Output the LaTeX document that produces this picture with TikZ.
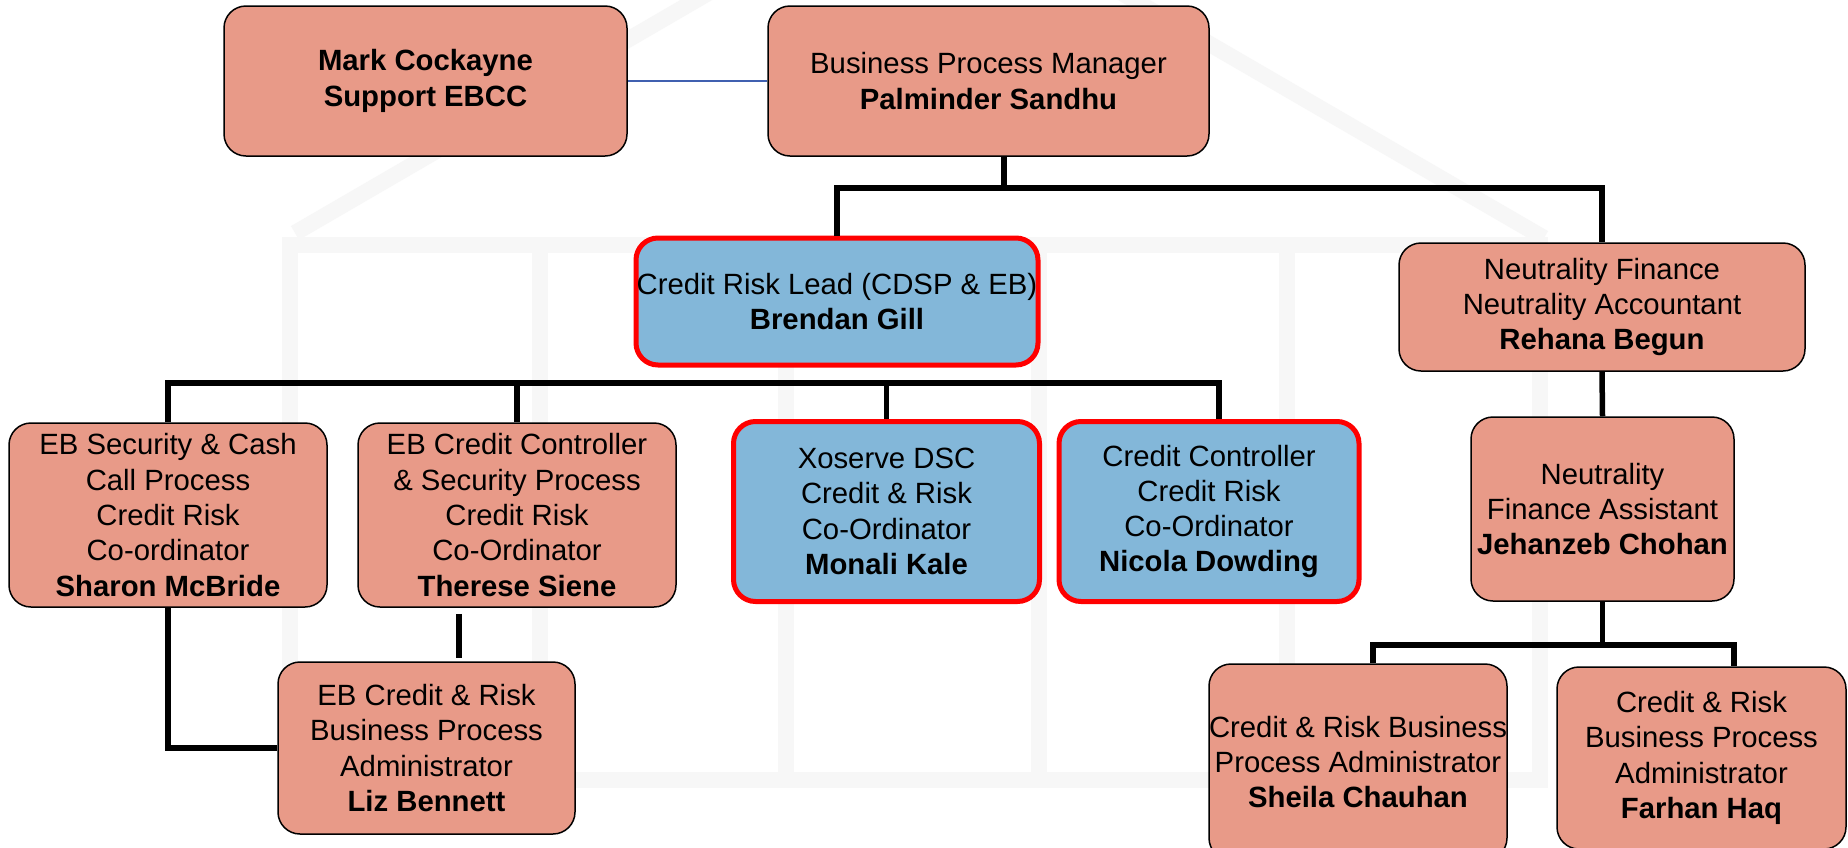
\documentclass[tikz,border=0pt]{standalone}
\usepackage{fontspec}
\setmainfont{Liberation Sans}
\usepackage{tikz}
\definecolor{salmon}{RGB}{232, 154, 136}
\definecolor{sky}{RGB}{131, 183, 217}
\definecolor{tieblue}{RGB}{64, 96, 176}
\definecolor{ghost}{RGB}{247, 247, 247}

\begin{document}
\begin{tikzpicture}[x=1pt, y=1pt,
    box/.style={draw=black, line width=1.5pt, fill=salmon, rounded corners=22pt,
                align=center, inner sep=0pt,
                font=\fontsize{29.3pt}{35.3pt}\selectfont},
    leadbox/.style={box, draw=red, fill=sky, line width=5pt},
    wire/.style={black, line width=5.5pt},
    tie/.style={tieblue, line width=2pt}]
  \useasboundingbox (0, 0) rectangle (1848, -847);
  \fill[white] (0, 0) rectangle (1848, -847);

  % faint house in the back
  \begin{scope}[ghost, line width=16pt]
    \draw (295, -233) -- (915, 127) -- (1544, -238);
    \draw (290, -245) rectangle (1540, -780);
    \foreach \x in {540, 786, 1039, 1287}
      \draw (\x, -245) -- (\x, -780);
  \end{scope}

  % boxes
  \node[box, minimum width=403pt, minimum height=150pt] (mark) at (425.5, -81)
    {\textbf{Mark Cockayne}\\\textbf{Support EBCC}};
  \node[box, minimum width=441pt, minimum height=150pt] (pm) at (988.5, -81)
    {Business Process Manager\\\textbf{Palminder Sandhu}};

  \node[leadbox, minimum width=402pt, minimum height=127pt] (crl) at (837, -301.5)
    {Credit Risk Lead (CDSP \& EB)\\\textbf{Brendan Gill}};
  \node[box, minimum width=406pt, minimum height=128pt] (nf) at (1602, -307)
    {Neutrality Finance\\Neutrality Accountant\\\textbf{Rehana Begun}};

  \node[box, minimum width=318pt, minimum height=184pt] (sharon) at (168, -515)
    {EB Security \& Cash\\Call Process\\Credit Risk\\Co-ordinator\\\textbf{Sharon McBride}};
  \node[box, minimum width=318pt, minimum height=184pt] (therese) at (517, -515)
    {EB Credit Controller\\\& Security Process\\Credit Risk\\Co-Ordinator\\\textbf{Therese Siene}};
  \node[leadbox, minimum width=306pt, minimum height=180pt] (monali) at (886.5, -511.5)
    {Xoserve DSC\\Credit \& Risk\\Co-Ordinator\\\textbf{Monali Kale}};
  \node[leadbox, minimum width=300pt, minimum height=180pt] (nicola) at (1209, -511.5)
    {Credit Controller\\Credit Risk\\Co-Ordinator\\\textbf{Nicola Dowding}};
  \node[box, minimum width=263pt, minimum height=184pt] (jehanzeb) at (1602.5, -509)
    {Neutrality\\Finance Assistant\\\textbf{Jehanzeb Chohan}};

  \node[box, minimum width=297pt, minimum height=172pt] (liz) at (426.5, -748)
    {EB Credit \& Risk\\Business Process\\Administrator\\\textbf{Liz Bennett}};
  \node[box, minimum width=296pt, minimum height=196pt] (sheila) at (1358, -762)
    {Credit \& Risk Business\\Process Administrator\\\textbf{Sheila Chauhan}};
  \node[box, minimum width=289pt, minimum height=182pt] (farhan) at (1701.5, -758)
    {Credit \& Risk\\Business Process\\Administrator\\\textbf{Farhan Haq}};

  % lines
  \coordinate (bar1) at (0, -188);
  \coordinate (bar2) at (0, -383);
  \coordinate (bar3) at (0, -645);

  \draw[tie] (mark.east) -- (pm.west);

  \draw[wire] ([xshift=15.5pt]pm.south) -- ([xshift=15.5pt]pm.south |- bar1);
  \draw[wire] (crl.north) |- (nf.north |- bar1) -- (nf.north);

  \draw[wire] (sharon.north) |- ([xshift=10pt]nicola.north |- bar2) -- ([xshift=10pt]nicola.north);
  \foreach \k in {therese, monali}
    \draw[wire] (\k.north) -- (\k.north |- bar2);

  \draw[wire] (sharon.south) |- (liz.west);
  \draw[wire] ([xshift=-58pt, yshift=-6pt]therese.south) -- ([xshift=32.5pt, yshift=3pt]liz.north);

  \draw[wire] (nf.south) -- (jehanzeb.north);
  \draw[wire] (jehanzeb.south) -- (jehanzeb.south |- bar3);
  \draw[wire] ([xshift=15pt]sheila.north) |- ([xshift=32.5pt]farhan.north |- bar3)
    -- ([xshift=32.5pt]farhan.north);
\end{tikzpicture}
\end{document}
